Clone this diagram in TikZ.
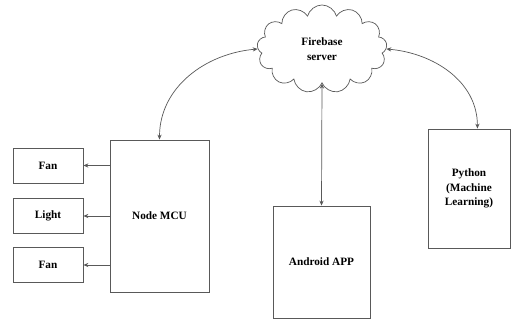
\documentclass[tikz,border=0pt]{standalone}
\usepackage{fontspec}
\setmainfont{Liberation Serif}
\usetikzlibrary{shapes.symbols,arrows.meta}

\begin{document}
\begin{tikzpicture}[x=0.025cm,y=0.025cm,
  font=\fontsize{8}{10.5}\selectfont\bfseries,
  box/.style={rectangle,draw=black!65,line width=0.6pt,align=center,inner sep=1pt},
  smallbox/.style={box,minimum width=1.75cm,minimum height=0.875cm},
  link/.style={draw=black!65,line width=0.5pt,-{Stealth[length=3.5pt,width=3pt]}},
  dlink/.style={link,{Stealth[length=3.5pt,width=3pt]}-{Stealth[length=3.5pt,width=3pt]}}]
\useasboundingbox (0,0) rectangle (515,327);
\node[cloud,cloud puffs=13,cloud ignores aspect,draw=black!65,line width=0.5pt,
  minimum width=3.25cm,minimum height=2.2cm,align=center] (fb) at (322,278) {Firebase\\server};
\node[box,minimum width=2.475cm,minimum height=3.8cm] (mcu) at (159.5,111) {Node MCU};
\node[smallbox] (fan1) at (48,161.5) {Fan};
\node[smallbox] (light) at (48,111) {Light};
\node[smallbox] (fan2) at (48,62) {Fan};
\node[box,minimum width=2.425cm,minimum height=2.8cm] (app) at (321.5,65) {Android APP};
\node[box,minimum width=2.05cm,minimum height=2.975cm] (py) at (469,138.5) {Python\\(Machine\\Learning)};
% links to the server
\draw[dlink] (fb.west) to[out=185,in=90] (mcu.north);
\draw[dlink] (fb.east) to[out=-5,in=90] (py.82);
\draw[dlink] (fb.south) -- (app.north);
% outputs of the board
\draw[link] (fan1.east -| mcu.west) -- (fan1.east);
\draw[link] (light.east -| mcu.west) -- (light.east);
\draw[link] (fan2.east -| mcu.west) -- (fan2.east);
\end{tikzpicture}
\end{document}
